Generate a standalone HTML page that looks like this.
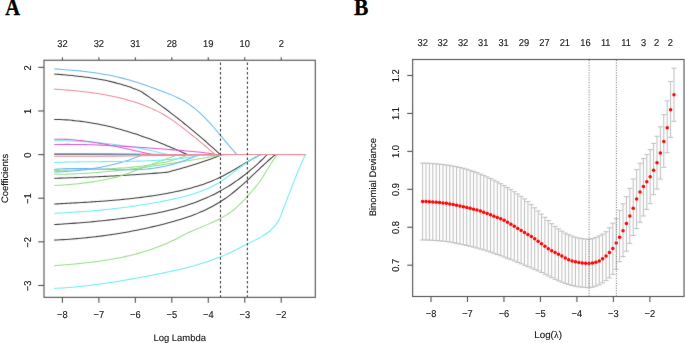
<!DOCTYPE html>
<html><head><meta charset="utf-8"><title>LASSO</title>
<style>html,body{margin:0;padding:0;background:#fff;width:685px;height:343px;overflow:hidden}
svg{display:block;font-family:"Liberation Sans",sans-serif;text-rendering:geometricPrecision}</style></head>
<body><svg width="685" height="343" viewBox="0 0 685 343"><defs><filter id="bl" x="0" y="0" width="685" height="343" filterUnits="userSpaceOnUse" color-interpolation-filters="sRGB"><feConvolveMatrix order="3" kernelMatrix="1 2 1 2 36 2 1 2 1" divisor="48" edgeMode="duplicate" preserveAlpha="false"/></filter></defs><rect x="0" y="0" width="685" height="343" fill="#fff"/><g filter="url(#bl)"><rect x="0" y="0" width="685" height="343" fill="#fff"/><g fill="none" stroke-width="1.05" stroke-linejoin="round"><path d="M54.2 74.01C54.7 74.05 56.2 74.17 57.2 74.26C58.2 74.34 59.2 74.43 60.2 74.51C61.2 74.6 62.2 74.68 63.2 74.77C64.2 74.86 65.2 74.95 66.2 75.04C67.2 75.13 68.2 75.22 69.2 75.31C70.2 75.41 71.2 75.51 72.2 75.6C73.2 75.7 74.2 75.8 75.2 75.91C76.2 76.01 77.2 76.12 78.2 76.23C79.2 76.34 80.2 76.46 81.2 76.57C82.2 76.69 83.2 76.81 84.2 76.94C85.2 77.06 86.2 77.19 87.2 77.33C88.2 77.46 89.2 77.6 90.2 77.75C91.2 77.89 92.2 78.04 93.2 78.19C94.2 78.35 95.2 78.51 96.2 78.67C97.2 78.84 98.2 79.01 99.2 79.19C100.2 79.37 101.2 79.55 102.2 79.74C103.2 79.93 104.2 80.13 105.2 80.34C106.2 80.54 107.2 80.75 108.2 80.97C109.2 81.19 110.2 81.42 111.2 81.65C112.2 81.89 113.2 82.13 114.2 82.38C115.2 82.63 116.2 82.89 117.2 83.16C118.2 83.43 119.2 83.7 120.2 83.99C121.2 84.28 122.2 84.57 123.2 84.88C124.2 85.18 125.2 85.49 126.2 85.82C127.2 86.14 128.2 86.48 129.2 86.82C130.2 87.17 131.2 87.52 132.2 87.89C133.2 88.26 134.2 88.63 135.2 89.02C136.2 89.41 137.23 89.82 138.2 90.22C139.17 90.62 140.53 91.2 141 91.4L141 91.4C141.5 91.74 143 92.77 144 93.46C145 94.15 146 94.84 147 95.54C148 96.23 149 96.94 150 97.64C151 98.35 152 99.05 153 99.77C154 100.48 155 101.2 156 101.92C157 102.64 158 103.37 159 104.1C160 104.83 161 105.56 162 106.3C163 107.04 164 107.78 165 108.53C166 109.28 167 110.03 168 110.79C169 111.54 170 112.3 171 113.07C172 113.83 173 114.6 174 115.38C175 116.15 176 116.93 177 117.71C178 118.5 179 119.28 180 120.08C181 120.87 182 121.67 183 122.47C184 123.27 185 124.07 186 124.89C187 125.7 188 126.51 189 127.33C190 128.15 191 128.98 192 129.81C193 130.64 194 131.47 195 132.31C196 133.15 197 133.99 198 134.84C199 135.69 200 136.55 201 137.4C202 138.26 203 139.13 204 140C205 140.86 206 141.74 207 142.62C208 143.5 209 144.38 210 145.27C211 146.16 212 147.05 213 147.95C214 148.85 215 149.75 216 150.66C217 151.57 218.28 152.75 219 153.4C219.72 154.06 220.08 154.4 220.3 154.6" stroke="#3D3D3D"/><path d="M54.2 119.41C54.7 119.42 56.2 119.44 57.2 119.47C58.2 119.5 59.2 119.53 60.2 119.57C61.2 119.61 62.2 119.65 63.2 119.71C64.2 119.76 65.2 119.82 66.2 119.89C67.2 119.95 68.2 120.02 69.2 120.1C70.2 120.18 71.2 120.27 72.2 120.36C73.2 120.45 74.2 120.55 75.2 120.66C76.2 120.76 77.2 120.87 78.2 120.99C79.2 121.11 80.2 121.23 81.2 121.36C82.2 121.49 83.2 121.63 84.2 121.77C85.2 121.91 86.2 122.06 87.2 122.21C88.2 122.37 89.2 122.53 90.2 122.69C91.2 122.86 92.2 123.03 93.2 123.21C94.2 123.39 95.2 123.57 96.2 123.76C97.2 123.95 98.2 124.14 99.2 124.34C100.2 124.54 101.2 124.75 102.2 124.96C103.2 125.17 104.2 125.39 105.2 125.61C106.2 125.84 107.2 126.07 108.2 126.3C109.2 126.53 110.2 126.77 111.2 127.02C112.2 127.26 113.2 127.51 114.2 127.77C115.2 128.02 116.2 128.28 117.2 128.55C118.2 128.82 119.2 129.09 120.2 129.36C121.2 129.64 122.2 129.92 123.2 130.21C124.2 130.49 125.2 130.78 126.2 131.08C127.2 131.38 128.2 131.68 129.2 131.98C130.2 132.29 131.2 132.6 132.2 132.91C133.2 133.23 134.2 133.55 135.2 133.87C136.2 134.2 137.2 134.53 138.2 134.86C139.2 135.2 140.2 135.54 141.2 135.88C142.2 136.22 143.2 136.57 144.2 136.92C145.2 137.27 146.2 137.63 147.2 137.99C148.2 138.35 149.2 138.72 150.2 139.09C151.2 139.46 152.2 139.83 153.2 140.21C154.2 140.59 155.2 140.97 156.2 141.36C157.2 141.74 158.2 142.13 159.2 142.53C160.2 142.92 161.2 143.32 162.2 143.72C163.2 144.13 164.2 144.53 165.2 144.94C166.2 145.35 167.2 145.77 168.2 146.19C169.2 146.6 170.2 147.03 171.2 147.45C172.2 147.88 173.2 148.31 174.2 148.74C175.2 149.17 176.2 149.61 177.2 150.05C178.2 150.49 179.2 150.93 180.2 151.38C181.2 151.83 182.2 152.28 183.2 152.73C184.2 153.18 185.52 153.79 186.2 154.1C186.88 154.41 187.12 154.52 187.3 154.6" stroke="#3D3D3D"/><path d="M54.2 154.4C65.17 154.4 99.03 154.37 120 154.4C140.97 154.43 163 154.57 180 154.6C197 154.63 215 154.6 222 154.6" stroke="#777777"/><path d="M54.2 178.3C54.7 178.29 56.2 178.24 57.2 178.21C58.2 178.18 59.2 178.15 60.2 178.12C61.2 178.09 62.2 178.06 63.2 178.03C64.2 178 65.2 177.97 66.2 177.93C67.2 177.9 68.2 177.87 69.2 177.83C70.2 177.8 71.2 177.77 72.2 177.73C73.2 177.7 74.2 177.66 75.2 177.63C76.2 177.59 77.2 177.55 78.2 177.52C79.2 177.48 80.2 177.44 81.2 177.4C82.2 177.36 83.2 177.33 84.2 177.29C85.2 177.25 86.2 177.21 87.2 177.17C88.2 177.12 89.2 177.08 90.2 177.04C91.2 177 92.2 176.96 93.2 176.91C94.2 176.87 95.2 176.83 96.2 176.78C97.2 176.74 98.2 176.69 99.2 176.64C100.2 176.6 101.2 176.55 102.2 176.5C103.2 176.46 104.2 176.41 105.2 176.36C106.2 176.31 107.2 176.26 108.2 176.21C109.2 176.16 110.2 176.11 111.2 176.06C112.2 176 113.2 175.95 114.2 175.9C115.2 175.84 116.2 175.79 117.2 175.73C118.2 175.68 119.2 175.62 120.2 175.57C121.2 175.51 122.2 175.45 123.2 175.39C124.2 175.33 125.2 175.27 126.2 175.21C127.2 175.15 128.2 175.09 129.2 175.03C130.2 174.97 131.2 174.91 132.2 174.84C133.2 174.78 134.2 174.71 135.2 174.65C136.2 174.58 137.2 174.52 138.2 174.45C139.2 174.38 140.2 174.31 141.2 174.24C142.2 174.18 143.2 174.11 144.2 174.03C145.2 173.96 146.2 173.89 147.2 173.82C148.2 173.75 149.2 173.67 150.2 173.6C151.2 173.52 152.2 173.45 153.2 173.37C154.2 173.29 155.2 173.21 156.2 173.14C157.2 173.06 158.2 172.98 159.2 172.9C160.2 172.81 161.2 172.73 162.2 172.65C163.2 172.57 164.32 172.47 165.2 172.4C166.08 172.32 167.12 172.23 167.5 172.2L167.5 172.2C168 172.07 169.5 171.66 170.5 171.39C171.5 171.13 172.5 170.85 173.5 170.58C174.5 170.31 175.5 170.04 176.5 169.76C177.5 169.48 178.5 169.21 179.5 168.93C180.5 168.65 181.5 168.36 182.5 168.08C183.5 167.79 184.5 167.5 185.5 167.21C186.5 166.92 187.5 166.63 188.5 166.33C189.5 166.03 190.5 165.73 191.5 165.43C192.5 165.12 193.5 164.82 194.5 164.5C195.5 164.19 196.5 163.88 197.5 163.56C198.5 163.23 199.5 162.91 200.5 162.58C201.5 162.25 202.5 161.91 203.5 161.57C204.5 161.23 205.5 160.89 206.5 160.54C207.5 160.19 208.5 159.83 209.5 159.47C210.5 159.11 211.5 158.74 212.5 158.37C213.5 157.99 214.5 157.61 215.5 157.22C216.5 156.84 217.5 156.44 218.5 156.04C219.5 155.64 220.92 155.06 221.5 154.82C222.08 154.58 221.92 154.64 222 154.6" stroke="#3D3D3D"/><path d="M54.2 204.02C54.7 203.99 56.2 203.91 57.2 203.86C58.2 203.8 59.2 203.75 60.2 203.7C61.2 203.64 62.2 203.59 63.2 203.53C64.2 203.48 65.2 203.42 66.2 203.37C67.2 203.32 68.2 203.26 69.2 203.21C70.2 203.15 71.2 203.1 72.2 203.04C73.2 202.99 74.2 202.93 75.2 202.88C76.2 202.82 77.2 202.76 78.2 202.71C79.2 202.65 80.2 202.59 81.2 202.53C82.2 202.47 83.2 202.42 84.2 202.36C85.2 202.3 86.2 202.24 87.2 202.17C88.2 202.11 89.2 202.05 90.2 201.99C91.2 201.92 92.2 201.86 93.2 201.79C94.2 201.73 95.2 201.66 96.2 201.59C97.2 201.53 98.2 201.46 99.2 201.39C100.2 201.32 101.2 201.24 102.2 201.17C103.2 201.1 104.2 201.02 105.2 200.95C106.2 200.87 107.2 200.79 108.2 200.71C109.2 200.64 110.2 200.55 111.2 200.47C112.2 200.39 113.2 200.3 114.2 200.22C115.2 200.13 116.2 200.04 117.2 199.95C118.2 199.86 119.2 199.77 120.2 199.68C121.2 199.58 122.2 199.49 123.2 199.39C124.2 199.29 125.2 199.19 126.2 199.09C127.2 198.98 128.2 198.88 129.2 198.77C130.2 198.66 131.2 198.55 132.2 198.44C133.2 198.33 134.2 198.21 135.2 198.1C136.2 197.98 137.2 197.86 138.2 197.73C139.2 197.61 140.2 197.49 141.2 197.36C142.2 197.23 143.2 197.1 144.2 196.96C145.2 196.83 146.2 196.69 147.2 196.55C148.2 196.41 149.2 196.27 150.2 196.12C151.2 195.98 152.2 195.83 153.2 195.67C154.2 195.52 155.2 195.36 156.2 195.21C157.2 195.05 158.2 194.88 159.2 194.72C160.2 194.55 161.2 194.38 162.2 194.21C163.2 194.03 164.2 193.86 165.2 193.68C166.2 193.5 167.2 193.31 168.2 193.12C169.2 192.94 170.2 192.74 171.2 192.55C172.2 192.35 173.2 192.15 174.2 191.95C175.2 191.75 176.2 191.54 177.2 191.33C178.2 191.11 179.2 190.9 180.2 190.67C181.2 190.45 182.2 190.22 183.2 189.99C184.2 189.75 185.2 189.51 186.2 189.26C187.2 189.02 188.2 188.76 189.2 188.5C190.2 188.24 191.2 187.97 192.2 187.69C193.2 187.41 194.2 187.13 195.2 186.83C196.2 186.54 197.2 186.23 198.2 185.92C199.2 185.61 200.2 185.28 201.2 184.95C202.2 184.62 203.2 184.28 204.2 183.92C205.2 183.57 206.2 183.2 207.2 182.83C208.2 182.45 209.2 182.06 210.2 181.66C211.2 181.26 212.2 180.85 213.2 180.43C214.2 180 215.2 179.57 216.2 179.11C217.2 178.66 218.2 178.2 219.2 177.72C220.2 177.24 221.2 176.75 222.2 176.24C223.2 175.74 224.2 175.21 225.2 174.68C226.2 174.15 227.2 173.61 228.2 173.06C229.2 172.51 230.2 171.94 231.2 171.38C232.2 170.81 233.2 170.23 234.2 169.65C235.2 169.07 236.2 168.48 237.2 167.9C238.2 167.31 239.2 166.71 240.2 166.12C241.2 165.53 242.2 164.93 243.2 164.34C244.2 163.75 245.2 163.15 246.2 162.57C247.2 161.98 248.2 161.39 249.2 160.82C250.2 160.24 251.2 159.67 252.2 159.11C253.2 158.55 254.2 158 255.2 157.46C256.2 156.92 257.27 156.35 258.2 155.88C259.13 155.4 260.37 154.81 260.8 154.6" stroke="#3D3D3D"/><path d="M54.2 224.54C54.7 224.51 56.2 224.42 57.2 224.36C58.2 224.3 59.2 224.24 60.2 224.18C61.2 224.11 62.2 224.05 63.2 223.99C64.2 223.92 65.2 223.85 66.2 223.79C67.2 223.72 68.2 223.65 69.2 223.58C70.2 223.51 71.2 223.44 72.2 223.36C73.2 223.29 74.2 223.22 75.2 223.14C76.2 223.07 77.2 222.99 78.2 222.91C79.2 222.83 80.2 222.75 81.2 222.67C82.2 222.59 83.2 222.51 84.2 222.42C85.2 222.34 86.2 222.25 87.2 222.17C88.2 222.08 89.2 221.99 90.2 221.9C91.2 221.81 92.2 221.72 93.2 221.63C94.2 221.54 95.2 221.44 96.2 221.35C97.2 221.25 98.2 221.15 99.2 221.05C100.2 220.95 101.2 220.85 102.2 220.75C103.2 220.65 104.2 220.55 105.2 220.44C106.2 220.33 107.2 220.23 108.2 220.12C109.2 220.01 110.2 219.9 111.2 219.79C112.2 219.68 113.2 219.56 114.2 219.45C115.2 219.33 116.2 219.22 117.2 219.1C118.2 218.98 119.2 218.86 120.2 218.74C121.2 218.62 122.2 218.49 123.2 218.37C124.2 218.24 125.2 218.11 126.2 217.98C127.2 217.85 128.2 217.72 129.2 217.59C130.2 217.45 131.2 217.31 132.2 217.17C133.2 217.03 134.2 216.89 135.2 216.75C136.2 216.6 137.2 216.45 138.2 216.3C139.2 216.15 140.2 215.99 141.2 215.84C142.2 215.68 143.2 215.52 144.2 215.35C145.2 215.18 146.2 215.02 147.2 214.84C148.2 214.67 149.2 214.49 150.2 214.31C151.2 214.13 152.2 213.94 153.2 213.75C154.2 213.56 155.2 213.37 156.2 213.17C157.2 212.97 158.2 212.77 159.2 212.56C160.2 212.35 161.2 212.14 162.2 211.92C163.2 211.7 164.2 211.47 165.2 211.24C166.2 211.01 167.2 210.78 168.2 210.54C169.2 210.3 170.2 210.05 171.2 209.8C172.2 209.55 173.2 209.29 174.2 209.02C175.2 208.76 176.2 208.49 177.2 208.21C178.2 207.93 179.2 207.65 180.2 207.36C181.2 207.07 182.2 206.77 183.2 206.47C184.2 206.16 185.2 205.85 186.2 205.53C187.2 205.21 188.2 204.88 189.2 204.54C190.2 204.21 191.2 203.86 192.2 203.51C193.2 203.15 194.2 202.79 195.2 202.42C196.2 202.05 197.2 201.67 198.2 201.28C199.2 200.89 200.2 200.49 201.2 200.08C202.2 199.67 203.2 199.25 204.2 198.82C205.2 198.4 206.2 197.96 207.2 197.51C208.2 197.06 209.2 196.6 210.2 196.12C211.2 195.65 212.2 195.17 213.2 194.68C214.2 194.18 215.2 193.68 216.2 193.16C217.2 192.64 218.2 192.11 219.2 191.57C220.2 191.03 221.2 190.47 222.2 189.91C223.2 189.34 224.2 188.76 225.2 188.17C226.2 187.58 227.2 186.97 228.2 186.35C229.2 185.73 230.2 185.1 231.2 184.45C232.2 183.81 233.2 183.15 234.2 182.47C235.2 181.8 236.2 181.11 237.2 180.41C238.2 179.7 239.2 178.99 240.2 178.25C241.2 177.52 242.2 176.77 243.2 176.01C244.2 175.24 245.2 174.46 246.2 173.67C247.2 172.87 248.2 172.06 249.2 171.24C250.2 170.41 251.2 169.56 252.2 168.7C253.2 167.84 254.2 166.97 255.2 166.07C256.2 165.18 257.2 164.27 258.2 163.34C259.2 162.41 260.2 161.46 261.2 160.5C262.2 159.53 263.22 158.53 264.2 157.55C265.18 156.57 266.62 155.09 267.1 154.6" stroke="#3D3D3D"/><path d="M54.2 240.11C54.7 240.08 56.2 240.01 57.2 239.95C58.2 239.9 59.2 239.85 60.2 239.79C61.2 239.73 62.2 239.67 63.2 239.61C64.2 239.55 65.2 239.48 66.2 239.41C67.2 239.35 68.2 239.28 69.2 239.2C70.2 239.13 71.2 239.06 72.2 238.98C73.2 238.9 74.2 238.82 75.2 238.74C76.2 238.66 77.2 238.57 78.2 238.49C79.2 238.4 80.2 238.31 81.2 238.22C82.2 238.12 83.2 238.03 84.2 237.93C85.2 237.83 86.2 237.73 87.2 237.63C88.2 237.53 89.2 237.42 90.2 237.31C91.2 237.21 92.2 237.09 93.2 236.98C94.2 236.87 95.2 236.75 96.2 236.63C97.2 236.51 98.2 236.39 99.2 236.27C100.2 236.14 101.2 236.01 102.2 235.88C103.2 235.75 104.2 235.62 105.2 235.48C106.2 235.35 107.2 235.21 108.2 235.07C109.2 234.93 110.2 234.78 111.2 234.63C112.2 234.49 113.2 234.33 114.2 234.18C115.2 234.03 116.2 233.87 117.2 233.71C118.2 233.55 119.2 233.39 120.2 233.23C121.2 233.06 122.2 232.89 123.2 232.72C124.2 232.55 125.2 232.37 126.2 232.2C127.2 232.02 128.2 231.84 129.2 231.66C130.2 231.47 131.2 231.28 132.2 231.09C133.2 230.9 134.2 230.71 135.2 230.52C136.2 230.32 137.2 230.12 138.2 229.92C139.2 229.71 140.2 229.51 141.2 229.3C142.2 229.09 143.2 228.88 144.2 228.66C145.2 228.45 146.2 228.23 147.2 228.01C148.2 227.78 149.2 227.56 150.2 227.33C151.2 227.1 152.2 226.87 153.2 226.63C154.2 226.4 155.2 226.16 156.2 225.92C157.2 225.68 158.2 225.43 159.2 225.18C160.2 224.93 161.2 224.68 162.2 224.42C163.2 224.17 164.2 223.91 165.2 223.65C166.2 223.38 167.2 223.12 168.2 222.85C169.2 222.58 170.2 222.3 171.2 222.03C172.2 221.75 173.2 221.47 174.2 221.18C175.2 220.9 176.2 220.61 177.2 220.32C178.2 220.03 179.2 219.73 180.2 219.43C181.2 219.12 182.2 218.81 183.2 218.5C184.2 218.18 185.2 217.86 186.2 217.53C187.2 217.19 188.2 216.86 189.2 216.51C190.2 216.16 191.2 215.81 192.2 215.44C193.2 215.07 194.2 214.7 195.2 214.31C196.2 213.92 197.2 213.53 198.2 213.12C199.2 212.71 200.2 212.29 201.2 211.85C202.2 211.42 203.2 210.97 204.2 210.51C205.2 210.05 206.2 209.58 207.2 209.09C208.2 208.6 209.2 208.09 210.2 207.57C211.2 207.05 212.2 206.52 213.2 205.97C214.2 205.42 215.2 204.85 216.2 204.26C217.2 203.67 218.2 203.07 219.2 202.45C220.2 201.83 221.2 201.18 222.2 200.52C223.2 199.86 224.2 199.18 225.2 198.48C226.2 197.79 227.2 197.07 228.2 196.33C229.2 195.6 230.2 194.85 231.2 194.08C232.2 193.31 233.2 192.52 234.2 191.72C235.2 190.92 236.2 190.1 237.2 189.26C238.2 188.42 239.2 187.57 240.2 186.71C241.2 185.84 242.2 184.95 243.2 184.06C244.2 183.16 245.2 182.25 246.2 181.33C247.2 180.41 248.2 179.48 249.2 178.54C250.2 177.61 251.2 176.66 252.2 175.72C253.2 174.77 254.2 173.82 255.2 172.87C256.2 171.92 257.2 170.96 258.2 170.02C259.2 169.07 260.2 168.12 261.2 167.18C262.2 166.25 263.2 165.31 264.2 164.39C265.2 163.47 266.2 162.56 267.2 161.66C268.2 160.77 269.2 159.88 270.2 159.01C271.2 158.15 272.32 157.2 273.2 156.47C274.08 155.73 275.12 154.91 275.5 154.6" stroke="#3D3D3D"/><path d="M54.2 170.51C54.7 170.49 56.2 170.44 57.2 170.41C58.2 170.37 59.2 170.34 60.2 170.31C61.2 170.28 62.2 170.26 63.2 170.23C64.2 170.2 65.2 170.17 66.2 170.15C67.2 170.12 68.2 170.09 69.2 170.07C70.2 170.04 71.2 170.02 72.2 169.99C73.2 169.97 74.2 169.94 75.2 169.92C76.2 169.89 77.2 169.87 78.2 169.84C79.2 169.81 80.2 169.79 81.2 169.76C82.2 169.74 83.2 169.71 84.2 169.68C85.2 169.66 86.2 169.63 87.2 169.6C88.2 169.57 89.2 169.54 90.2 169.51C91.2 169.48 92.2 169.45 93.2 169.42C94.2 169.39 95.2 169.35 96.2 169.32C97.2 169.28 98.2 169.25 99.2 169.21C100.2 169.17 101.2 169.13 102.2 169.09C103.2 169.05 104.2 169.01 105.2 168.96C106.2 168.92 107.2 168.87 108.2 168.82C109.2 168.77 110.2 168.72 111.2 168.67C112.2 168.61 113.2 168.56 114.2 168.5C115.2 168.44 116.2 168.38 117.2 168.31C118.2 168.25 119.2 168.18 120.2 168.11C121.2 168.04 122.2 167.97 123.2 167.9C124.2 167.82 125.2 167.74 126.2 167.66C127.2 167.58 128.2 167.49 129.2 167.4C130.2 167.31 131.2 167.22 132.2 167.12C133.2 167.03 134.2 166.93 135.2 166.82C136.2 166.72 137.2 166.61 138.2 166.5C139.2 166.39 140.2 166.27 141.2 166.15C142.2 166.03 143.2 165.91 144.2 165.78C145.2 165.65 146.2 165.51 147.2 165.37C148.2 165.24 149.2 165.09 150.2 164.95C151.2 164.8 152.2 164.64 153.2 164.48C154.2 164.33 155.2 164.16 156.2 163.99C157.2 163.81 158.2 163.64 159.2 163.45C160.2 163.26 161.2 163.06 162.2 162.85C163.2 162.65 164.2 162.43 165.2 162.2C166.2 161.98 167.2 161.74 168.2 161.49C169.2 161.24 170.2 160.97 171.2 160.7C172.2 160.42 173.2 160.13 174.2 159.83C175.2 159.53 176.2 159.21 177.2 158.87C178.2 158.54 179.2 158.19 180.2 157.82C181.2 157.46 182.2 157.08 183.2 156.67C184.2 156.27 185.4 155.76 186.2 155.41C187 155.07 187.7 154.74 188 154.6" stroke="#94DF87"/><path d="M54.2 174.3C54.7 174.3 56.2 174.3 57.2 174.29C58.2 174.29 59.2 174.28 60.2 174.26C61.2 174.25 62.2 174.23 63.2 174.22C64.2 174.2 65.2 174.17 66.2 174.15C67.2 174.12 68.2 174.1 69.2 174.07C70.2 174.04 71.2 174 72.2 173.96C73.2 173.93 74.2 173.89 75.2 173.85C76.2 173.81 77.2 173.76 78.2 173.71C79.2 173.67 80.2 173.62 81.2 173.56C82.2 173.51 83.2 173.45 84.2 173.4C85.2 173.34 86.2 173.28 87.2 173.21C88.2 173.15 89.2 173.09 90.2 173.02C91.2 172.95 92.2 172.88 93.2 172.81C94.2 172.73 95.2 172.66 96.2 172.58C97.2 172.5 98.2 172.42 99.2 172.34C100.2 172.26 101.2 172.17 102.2 172.09C103.2 172 104.2 171.91 105.2 171.82C106.2 171.73 107.2 171.64 108.2 171.54C109.2 171.45 110.2 171.35 111.2 171.25C112.2 171.15 113.2 171.05 114.2 170.94C115.2 170.84 116.2 170.74 117.2 170.63C118.2 170.52 119.2 170.41 120.2 170.3C121.2 170.19 122.2 170.08 123.2 169.96C124.2 169.85 125.2 169.73 126.2 169.62C127.2 169.5 128.2 169.38 129.2 169.26C130.2 169.14 131.2 169.01 132.2 168.89C133.2 168.76 134.2 168.64 135.2 168.51C136.2 168.38 137.2 168.25 138.2 168.12C139.2 167.99 140.2 167.86 141.2 167.73C142.2 167.59 143.2 167.46 144.2 167.32C145.2 167.18 146.2 167.05 147.2 166.91C148.2 166.77 149.2 166.63 150.2 166.49C151.2 166.35 152.2 166.2 153.2 166.06C154.2 165.92 155.2 165.77 156.2 165.63C157.2 165.48 158.2 165.33 159.2 165.18C160.2 165.04 161.2 164.89 162.2 164.74C163.2 164.59 164.2 164.44 165.2 164.28C166.2 164.13 167.2 163.98 168.2 163.83C169.2 163.67 170.2 163.52 171.2 163.36C172.2 163.21 173.2 163.05 174.2 162.89C175.2 162.74 176.2 162.58 177.2 162.42C178.2 162.26 179.2 162.1 180.2 161.95C181.2 161.79 182.2 161.63 183.2 161.46C184.2 161.3 185.2 161.14 186.2 160.98C187.2 160.82 188.2 160.66 189.2 160.5C190.2 160.33 191.2 160.17 192.2 160.01C193.2 159.84 194.2 159.68 195.2 159.52C196.2 159.35 197.2 159.19 198.2 159.02C199.2 158.86 200.2 158.69 201.2 158.53C202.2 158.37 203.2 158.2 204.2 158.04C205.2 157.87 206.2 157.71 207.2 157.54C208.2 157.37 209.2 157.21 210.2 157.04C211.2 156.88 212.2 156.71 213.2 156.55C214.2 156.38 215.2 156.22 216.2 156.05C217.2 155.89 218.2 155.72 219.2 155.56C220.2 155.4 221.23 155.23 222.2 155.07C223.17 154.91 224.53 154.68 225 154.6" stroke="#94DF87"/><path d="M54.2 185.4C54.7 185.39 56.2 185.35 57.2 185.31C58.2 185.27 59.2 185.23 60.2 185.18C61.2 185.13 62.2 185.08 63.2 185.02C64.2 184.96 65.2 184.9 66.2 184.83C67.2 184.76 68.2 184.68 69.2 184.6C70.2 184.52 71.2 184.43 72.2 184.34C73.2 184.25 74.2 184.15 75.2 184.05C76.2 183.95 77.2 183.85 78.2 183.74C79.2 183.62 80.2 183.51 81.2 183.39C82.2 183.27 83.2 183.14 84.2 183.01C85.2 182.88 86.2 182.75 87.2 182.61C88.2 182.47 89.2 182.33 90.2 182.18C91.2 182.04 92.2 181.88 93.2 181.73C94.2 181.57 95.2 181.41 96.2 181.25C97.2 181.09 98.2 180.92 99.2 180.75C100.2 180.57 101.2 180.4 102.2 180.22C103.2 180.04 104.2 179.85 105.2 179.66C106.2 179.47 107.2 179.27 108.2 179.06C109.2 178.85 110.2 178.63 111.2 178.4C112.2 178.17 113.2 177.93 114.2 177.67C115.2 177.42 116.2 177.15 117.2 176.87C118.2 176.59 119.2 176.29 120.2 175.98C121.2 175.67 122.2 175.34 123.2 175.01C124.2 174.68 125.2 174.33 126.2 173.97C127.2 173.62 128.2 173.26 129.2 172.89C130.2 172.52 131.2 172.14 132.2 171.76C133.2 171.38 134.2 170.99 135.2 170.6C136.2 170.22 137.2 169.82 138.2 169.43C139.2 169.04 140.2 168.65 141.2 168.27C142.2 167.88 143.2 167.49 144.2 167.11C145.2 166.73 146.2 166.35 147.2 165.98C148.2 165.61 149.2 165.24 150.2 164.87C151.2 164.5 152.2 164.14 153.2 163.78C154.2 163.41 155.2 163.05 156.2 162.69C157.2 162.33 158.2 161.97 159.2 161.6C160.2 161.24 161.2 160.88 162.2 160.51C163.2 160.15 164.2 159.78 165.2 159.41C166.2 159.04 167.2 158.66 168.2 158.29C169.2 157.91 170.2 157.52 171.2 157.14C172.2 156.75 173.2 156.35 174.2 155.95C175.2 155.55 176.65 154.95 177.2 154.73C177.75 154.5 177.45 154.62 177.5 154.6" stroke="#94DF87"/><path d="M54.2 265.71C54.7 265.67 56.2 265.55 57.2 265.46C58.2 265.38 59.2 265.3 60.2 265.22C61.2 265.13 62.2 265.05 63.2 264.96C64.2 264.88 65.2 264.79 66.2 264.71C67.2 264.62 68.2 264.53 69.2 264.44C70.2 264.36 71.2 264.27 72.2 264.18C73.2 264.08 74.2 263.99 75.2 263.9C76.2 263.8 77.2 263.71 78.2 263.61C79.2 263.51 80.2 263.41 81.2 263.31C82.2 263.21 83.2 263.1 84.2 263C85.2 262.89 86.2 262.78 87.2 262.67C88.2 262.56 89.2 262.44 90.2 262.33C91.2 262.21 92.2 262.09 93.2 261.96C94.2 261.84 95.2 261.71 96.2 261.58C97.2 261.45 98.2 261.32 99.2 261.18C100.2 261.04 101.2 260.9 102.2 260.76C103.2 260.61 104.2 260.46 105.2 260.31C106.2 260.15 107.2 260 108.2 259.83C109.2 259.67 110.2 259.51 111.2 259.33C112.2 259.16 113.2 258.99 114.2 258.8C115.2 258.62 116.2 258.44 117.2 258.25C118.2 258.05 119.2 257.86 120.2 257.66C121.2 257.45 122.2 257.25 123.2 257.03C124.2 256.82 125.2 256.6 126.2 256.37C127.2 256.15 128.2 255.92 129.2 255.68C130.2 255.44 131.2 255.2 132.2 254.95C133.2 254.7 134.2 254.44 135.2 254.18C136.2 253.92 137.2 253.65 138.2 253.37C139.2 253.09 140.2 252.81 141.2 252.52C142.2 252.22 143.2 251.93 144.2 251.62C145.2 251.31 146.2 251 147.2 250.68C148.2 250.36 149.2 250.03 150.2 249.69C151.2 249.35 152.2 249.01 153.2 248.65C154.2 248.3 155.2 247.94 156.2 247.57C157.2 247.2 158.2 246.82 159.2 246.43C160.2 246.04 161.2 245.65 162.2 245.24C163.2 244.83 164.2 244.42 165.2 244C166.2 243.57 167.2 243.14 168.2 242.7C169.2 242.25 170.2 241.8 171.2 241.34C172.2 240.88 173.2 240.4 174.2 239.92C175.2 239.44 176.2 238.95 177.2 238.45C178.2 237.94 179.2 237.43 180.2 236.91C181.2 236.39 182.2 235.85 183.2 235.31C184.2 234.76 185.6 233.98 186.2 233.64C186.8 233.31 186.7 233.36 186.8 233.3L186.8 233.3C187.3 233.08 188.8 232.39 189.8 231.95C190.8 231.51 191.8 231.08 192.8 230.65C193.8 230.22 194.8 229.8 195.8 229.38C196.8 228.96 197.8 228.55 198.8 228.13C199.8 227.72 200.8 227.3 201.8 226.89C202.8 226.47 203.8 226.06 204.8 225.64C205.8 225.22 206.8 224.79 207.8 224.36C208.8 223.93 209.8 223.49 210.8 223.05C211.8 222.6 212.8 222.15 213.8 221.68C214.8 221.22 215.8 220.75 216.8 220.26C217.8 219.77 218.8 219.27 219.8 218.75C220.8 218.23 221.8 217.69 222.8 217.13C223.8 216.57 224.8 215.99 225.8 215.38C226.8 214.77 227.8 214.13 228.8 213.46C229.8 212.79 230.8 212.08 231.8 211.34C232.8 210.59 233.8 209.81 234.8 208.98C235.8 208.15 236.8 207.28 237.8 206.36C238.8 205.44 239.8 204.46 240.8 203.46C241.8 202.45 242.8 201.4 243.8 200.33C244.8 199.26 245.8 198.16 246.8 197.06C247.8 195.95 248.8 194.84 249.8 193.71C250.8 192.57 251.8 191.44 252.8 190.26C253.8 189.09 254.8 187.9 255.8 186.65C256.8 185.4 257.8 184.11 258.8 182.76C259.8 181.4 260.8 180 261.8 178.51C262.8 177.02 263.8 175.43 264.8 173.82C265.8 172.21 266.8 170.5 267.8 168.85C268.8 167.2 269.8 165.51 270.8 163.92C271.8 162.34 272.8 160.76 273.8 159.36C274.8 157.95 276.17 156.26 276.8 155.47C277.43 154.68 277.47 154.74 277.6 154.6" stroke="#94DF87"/><path d="M54.2 68.91C54.7 68.94 56.2 69.05 57.2 69.12C58.2 69.19 59.2 69.26 60.2 69.33C61.2 69.4 62.2 69.48 63.2 69.55C64.2 69.63 65.2 69.7 66.2 69.78C67.2 69.86 68.2 69.94 69.2 70.02C70.2 70.11 71.2 70.19 72.2 70.28C73.2 70.36 74.2 70.45 75.2 70.54C76.2 70.64 77.2 70.73 78.2 70.83C79.2 70.93 80.2 71.03 81.2 71.13C82.2 71.24 83.2 71.34 84.2 71.45C85.2 71.57 86.2 71.68 87.2 71.8C88.2 71.92 89.2 72.04 90.2 72.17C91.2 72.3 92.2 72.43 93.2 72.56C94.2 72.7 95.2 72.84 96.2 72.99C97.2 73.13 98.2 73.29 99.2 73.44C100.2 73.6 101.2 73.76 102.2 73.93C103.2 74.09 104.2 74.27 105.2 74.45C106.2 74.63 107.2 74.81 108.2 75C109.2 75.19 110.2 75.39 111.2 75.6C112.2 75.8 113.2 76.01 114.2 76.23C115.2 76.45 116.2 76.67 117.2 76.9C118.2 77.13 119.2 77.37 120.2 77.62C121.2 77.87 122.2 78.12 123.2 78.38C124.2 78.64 125.2 78.91 126.2 79.19C127.2 79.46 128.2 79.75 129.2 80.04C130.2 80.32 131.2 80.62 132.2 80.92C133.2 81.22 134.2 81.53 135.2 81.84C136.2 82.15 137.2 82.47 138.2 82.79C139.2 83.12 140.2 83.45 141.2 83.78C142.2 84.11 143.2 84.45 144.2 84.79C145.2 85.14 146.2 85.48 147.2 85.83C148.2 86.18 149.2 86.54 150.2 86.9C151.2 87.26 152.2 87.62 153.2 87.98C154.2 88.35 155.2 88.72 156.2 89.09C157.2 89.46 158.2 89.83 159.2 90.21C160.2 90.59 161.2 90.97 162.2 91.35C163.2 91.73 164.2 92.11 165.2 92.5C166.2 92.88 167.2 93.27 168.2 93.66C169.2 94.06 170.2 94.46 171.2 94.87C172.2 95.28 173.2 95.7 174.2 96.13C175.2 96.57 176.2 97.02 177.2 97.49C178.2 97.96 179.2 98.45 180.2 98.96C181.2 99.48 182.2 100.01 183.2 100.58C184.2 101.14 185.2 101.74 186.2 102.36C187.2 102.99 188.2 103.64 189.2 104.34C190.2 105.03 191.2 105.75 192.2 106.5C193.2 107.26 194.2 108.05 195.2 108.86C196.2 109.68 197.2 110.53 198.2 111.41C199.2 112.29 200.2 113.2 201.2 114.14C202.2 115.08 203.2 116.05 204.2 117.04C205.2 118.04 206.2 119.07 207.2 120.13C208.2 121.18 209.2 122.27 210.2 123.37C211.2 124.48 212.2 125.62 213.2 126.76C214.2 127.91 215.2 129.08 216.2 130.26C217.2 131.44 218.2 132.63 219.2 133.83C220.2 135.02 221.2 136.23 222.2 137.43C223.2 138.64 224.2 139.85 225.2 141.04C226.2 142.24 227.2 143.44 228.2 144.62C229.2 145.8 230.2 146.98 231.2 148.13C232.2 149.29 233.23 150.47 234.2 151.55C235.17 152.62 236.53 154.09 237 154.6" stroke="#69B8EE"/><path d="M54.2 153.5C61.83 153.52 85.7 153.5 100 153.6C114.3 153.7 129.17 153.93 140 154.1C150.83 154.27 160.83 154.52 165 154.6" stroke="#69B8EE"/><path d="M54.2 169.4C54.7 169.36 56.2 169.22 57.2 169.14C58.2 169.05 59.2 168.98 60.2 168.92C61.2 168.85 62.2 168.79 63.2 168.74C64.2 168.69 65.2 168.65 66.2 168.61C67.2 168.58 68.2 168.55 69.2 168.52C70.2 168.5 71.2 168.48 72.2 168.47C73.2 168.45 74.2 168.45 75.2 168.44C76.2 168.44 77.2 168.44 78.2 168.45C79.2 168.46 80.2 168.47 81.2 168.48C82.2 168.5 83.2 168.51 84.2 168.54C85.2 168.56 86.2 168.58 87.2 168.61C88.2 168.64 89.2 168.67 90.2 168.7C91.2 168.73 92.2 168.76 93.2 168.8C94.2 168.84 95.2 168.87 96.2 168.91C97.2 168.95 98.2 168.99 99.2 169.03C100.2 169.07 101.2 169.11 102.2 169.15C103.2 169.18 104.2 169.22 105.2 169.26C106.2 169.3 107.2 169.34 108.2 169.38C109.2 169.41 110.2 169.45 111.2 169.48C112.2 169.51 113.2 169.55 114.2 169.58C115.2 169.6 116.2 169.63 117.2 169.65C118.2 169.68 119.2 169.7 120.2 169.72C121.2 169.73 122.2 169.75 123.2 169.76C124.2 169.77 125.2 169.77 126.2 169.77C127.2 169.77 128.2 169.77 129.2 169.76C130.2 169.75 131.2 169.74 132.2 169.72C133.2 169.7 134.2 169.67 135.2 169.64C136.2 169.61 137.2 169.57 138.2 169.52C139.2 169.48 140.2 169.42 141.2 169.36C142.2 169.3 143.2 169.24 144.2 169.16C145.2 169.09 146.2 169 147.2 168.91C148.2 168.82 149.2 168.72 150.2 168.61C151.2 168.5 152.2 168.38 153.2 168.25C154.2 168.12 155.2 167.99 156.2 167.84C157.2 167.69 158.2 167.53 159.2 167.36C160.2 167.19 161.2 167.01 162.2 166.82C163.2 166.63 164.2 166.42 165.2 166.21C166.2 165.99 167.2 165.77 168.2 165.53C169.2 165.29 170.2 165.04 171.2 164.77C172.2 164.51 173.2 164.23 174.2 163.94C175.2 163.65 176.2 163.35 177.2 163.04C178.2 162.73 179.2 162.4 180.2 162.07C181.2 161.74 182.2 161.4 183.2 161.05C184.2 160.69 185.2 160.33 186.2 159.96C187.2 159.59 188.2 159.22 189.2 158.83C190.2 158.44 191.2 158.05 192.2 157.65C193.2 157.25 194.2 156.83 195.2 156.43C196.2 156.03 197.4 155.54 198.2 155.23C199 154.93 199.7 154.71 200 154.6" stroke="#69B8EE"/><path d="M54.2 172C54.7 171.98 56.2 171.92 57.2 171.88C58.2 171.83 59.2 171.78 60.2 171.73C61.2 171.68 62.2 171.62 63.2 171.57C64.2 171.51 65.2 171.45 66.2 171.38C67.2 171.31 68.2 171.24 69.2 171.17C70.2 171.1 71.2 171.02 72.2 170.94C73.2 170.86 74.2 170.77 75.2 170.68C76.2 170.59 77.2 170.5 78.2 170.4C79.2 170.3 80.2 170.19 81.2 170.08C82.2 169.97 83.2 169.86 84.2 169.74C85.2 169.62 86.2 169.49 87.2 169.36C88.2 169.23 89.2 169.09 90.2 168.95C91.2 168.81 92.2 168.66 93.2 168.51C94.2 168.35 95.2 168.19 96.2 168.03C97.2 167.86 98.2 167.69 99.2 167.51C100.2 167.33 101.2 167.14 102.2 166.95C103.2 166.76 104.2 166.56 105.2 166.35C106.2 166.14 107.2 165.93 108.2 165.71C109.2 165.49 110.2 165.26 111.2 165.02C112.2 164.78 113.2 164.54 114.2 164.29C115.2 164.03 116.2 163.77 117.2 163.51C118.2 163.24 119.2 162.96 120.2 162.68C121.2 162.39 122.2 162.1 123.2 161.8C124.2 161.49 125.2 161.18 126.2 160.86C127.2 160.54 128.2 160.22 129.2 159.88C130.2 159.54 131.2 159.19 132.2 158.84C133.2 158.48 134.2 158.11 135.2 157.74C136.2 157.36 137.2 156.98 138.2 156.58C139.2 156.19 140.4 155.69 141.2 155.36C142 155.03 142.7 154.73 143 154.6" stroke="#69B8EE"/><path d="M54.2 140.7C54.7 140.7 56.2 140.7 57.2 140.7C58.2 140.71 59.2 140.72 60.2 140.73C61.2 140.74 62.2 140.76 63.2 140.77C64.2 140.79 65.2 140.81 66.2 140.84C67.2 140.86 68.2 140.89 69.2 140.92C70.2 140.95 71.2 140.99 72.2 141.02C73.2 141.06 74.2 141.1 75.2 141.14C76.2 141.19 77.2 141.23 78.2 141.28C79.2 141.33 80.2 141.39 81.2 141.44C82.2 141.5 83.2 141.56 84.2 141.62C85.2 141.68 86.2 141.75 87.2 141.82C88.2 141.89 89.2 141.96 90.2 142.03C91.2 142.11 92.2 142.19 93.2 142.27C94.2 142.35 95.2 142.44 96.2 142.52C97.2 142.61 98.2 142.7 99.2 142.8C100.2 142.89 101.2 142.99 102.2 143.09C103.2 143.19 104.2 143.29 105.2 143.4C106.2 143.51 107.2 143.62 108.2 143.73C109.2 143.84 110.2 143.96 111.2 144.08C112.2 144.2 113.2 144.32 114.2 144.44C115.2 144.57 116.2 144.7 117.2 144.83C118.2 144.96 119.2 145.1 120.2 145.24C121.2 145.38 122.2 145.52 123.2 145.66C124.2 145.81 125.2 145.96 126.2 146.11C127.2 146.26 128.2 146.41 129.2 146.57C130.2 146.73 131.2 146.89 132.2 147.06C133.2 147.23 134.2 147.4 135.2 147.57C136.2 147.74 137.2 147.92 138.2 148.1C139.2 148.28 140.2 148.46 141.2 148.65C142.2 148.84 143.2 149.03 144.2 149.23C145.2 149.43 146.2 149.63 147.2 149.83C148.2 150.04 149.2 150.25 150.2 150.46C151.2 150.67 152.2 150.89 153.2 151.11C154.2 151.33 155.2 151.56 156.2 151.79C157.2 152.02 158.2 152.25 159.2 152.49C160.2 152.73 161.2 152.97 162.2 153.22C163.2 153.47 164.32 153.75 165.2 153.98C166.08 154.21 167.12 154.5 167.5 154.6" stroke="#6DEBED"/><path d="M54.2 162.51C54.7 162.49 56.2 162.43 57.2 162.39C58.2 162.36 59.2 162.32 60.2 162.29C61.2 162.26 62.2 162.23 63.2 162.2C64.2 162.17 65.2 162.14 66.2 162.11C67.2 162.09 68.2 162.06 69.2 162.04C70.2 162.02 71.2 162 72.2 161.98C73.2 161.96 74.2 161.94 75.2 161.92C76.2 161.9 77.2 161.89 78.2 161.87C79.2 161.86 80.2 161.84 81.2 161.83C82.2 161.82 83.2 161.8 84.2 161.79C85.2 161.78 86.2 161.77 87.2 161.76C88.2 161.75 89.2 161.74 90.2 161.73C91.2 161.72 92.2 161.71 93.2 161.71C94.2 161.7 95.2 161.69 96.2 161.68C97.2 161.67 98.2 161.67 99.2 161.66C100.2 161.65 101.2 161.65 102.2 161.64C103.2 161.63 104.2 161.62 105.2 161.62C106.2 161.61 107.2 161.6 108.2 161.59C109.2 161.59 110.2 161.58 111.2 161.57C112.2 161.56 113.2 161.55 114.2 161.54C115.2 161.53 116.2 161.52 117.2 161.51C118.2 161.5 119.2 161.49 120.2 161.47C121.2 161.46 122.2 161.45 123.2 161.43C124.2 161.42 125.2 161.4 126.2 161.39C127.2 161.37 128.2 161.35 129.2 161.33C130.2 161.31 131.2 161.29 132.2 161.27C133.2 161.25 134.2 161.23 135.2 161.2C136.2 161.18 137.2 161.15 138.2 161.12C139.2 161.09 140.2 161.06 141.2 161.03C142.2 161 143.2 160.97 144.2 160.93C145.2 160.9 146.2 160.86 147.2 160.82C148.2 160.78 149.2 160.74 150.2 160.69C151.2 160.65 152.2 160.6 153.2 160.56C154.2 160.51 155.2 160.46 156.2 160.4C157.2 160.35 158.2 160.29 159.2 160.24C160.2 160.18 161.2 160.12 162.2 160.05C163.2 159.99 164.2 159.92 165.2 159.85C166.2 159.78 167.2 159.71 168.2 159.63C169.2 159.56 170.2 159.48 171.2 159.4C172.2 159.31 173.2 159.23 174.2 159.14C175.2 159.05 176.2 158.95 177.2 158.85C178.2 158.75 179.2 158.65 180.2 158.53C181.2 158.42 182.2 158.3 183.2 158.17C184.2 158.05 185.2 157.91 186.2 157.77C187.2 157.62 188.2 157.47 189.2 157.31C190.2 157.15 191.2 156.98 192.2 156.79C193.2 156.61 194.2 156.42 195.2 156.21C196.2 156.01 197.2 155.79 198.2 155.56C199.2 155.33 200.57 154.99 201.2 154.83C201.83 154.67 201.87 154.64 202 154.6" stroke="#6DEBED"/><path d="M54.2 213.32C54.7 213.3 56.2 213.22 57.2 213.16C58.2 213.11 59.2 213.06 60.2 213C61.2 212.94 62.2 212.89 63.2 212.83C64.2 212.77 65.2 212.71 66.2 212.65C67.2 212.59 68.2 212.53 69.2 212.47C70.2 212.41 71.2 212.34 72.2 212.28C73.2 212.21 74.2 212.15 75.2 212.08C76.2 212.01 77.2 211.94 78.2 211.87C79.2 211.8 80.2 211.73 81.2 211.66C82.2 211.58 83.2 211.51 84.2 211.43C85.2 211.36 86.2 211.28 87.2 211.2C88.2 211.12 89.2 211.04 90.2 210.96C91.2 210.88 92.2 210.79 93.2 210.71C94.2 210.62 95.2 210.54 96.2 210.45C97.2 210.36 98.2 210.27 99.2 210.17C100.2 210.08 101.2 209.99 102.2 209.89C103.2 209.79 104.2 209.7 105.2 209.6C106.2 209.5 107.2 209.39 108.2 209.29C109.2 209.19 110.2 209.08 111.2 208.97C112.2 208.86 113.2 208.75 114.2 208.64C115.2 208.53 116.2 208.41 117.2 208.3C118.2 208.18 119.2 208.06 120.2 207.94C121.2 207.82 122.2 207.7 123.2 207.57C124.2 207.45 125.2 207.32 126.2 207.19C127.2 207.06 128.2 206.93 129.2 206.79C130.2 206.66 131.2 206.52 132.2 206.38C133.2 206.24 134.2 206.1 135.2 205.95C136.2 205.81 137.2 205.66 138.2 205.51C139.2 205.36 140.2 205.21 141.2 205.05C142.2 204.9 143.2 204.74 144.2 204.58C145.2 204.42 146.2 204.25 147.2 204.09C148.2 203.92 149.2 203.75 150.2 203.58C151.2 203.41 152.2 203.23 153.2 203.05C154.2 202.88 155.2 202.7 156.2 202.51C157.2 202.33 158.2 202.14 159.2 201.95C160.2 201.76 161.2 201.57 162.2 201.37C163.2 201.18 164.2 200.98 165.2 200.78C166.2 200.58 167.2 200.37 168.2 200.16C169.2 199.95 170.2 199.74 171.2 199.53C172.2 199.31 173.2 199.09 174.2 198.87C175.2 198.65 176.2 198.43 177.2 198.2C178.2 197.96 179.2 197.73 180.2 197.49C181.2 197.25 182.2 197 183.2 196.75C184.2 196.5 185.2 196.24 186.2 195.97C187.2 195.7 188.2 195.43 189.2 195.14C190.2 194.86 191.2 194.57 192.2 194.27C193.2 193.96 194.2 193.65 195.2 193.33C196.2 193 197.2 192.67 198.2 192.32C199.2 191.98 200.2 191.62 201.2 191.24C202.2 190.87 203.2 190.48 204.2 190.08C205.2 189.67 206.2 189.26 207.2 188.82C208.2 188.38 209.2 187.92 210.2 187.44C211.2 186.97 212.2 186.47 213.2 185.95C214.2 185.43 215.2 184.89 216.2 184.32C217.2 183.75 218.2 183.17 219.2 182.55C220.2 181.93 221.2 181.29 222.2 180.62C223.2 179.95 224.2 179.26 225.2 178.55C226.2 177.84 227.2 177.11 228.2 176.37C229.2 175.63 230.2 174.87 231.2 174.11C232.2 173.35 233.2 172.58 234.2 171.81C235.2 171.04 236.2 170.26 237.2 169.49C238.2 168.72 239.2 167.95 240.2 167.2C241.2 166.45 242.2 165.69 243.2 164.96C244.2 164.23 245.2 163.51 246.2 162.82C247.2 162.13 248.2 161.45 249.2 160.81C250.2 160.17 251.2 159.56 252.2 158.99C253.2 158.41 254.2 157.87 255.2 157.39C256.2 156.9 257.2 156.45 258.2 156.05C259.2 155.66 260.4 155.28 261.2 155.04C262 154.8 262.7 154.67 263 154.6" stroke="#6DEBED"/><path d="M54.2 288.4C54.7 288.38 56.2 288.31 57.2 288.26C58.2 288.2 59.2 288.15 60.2 288.09C61.2 288.03 62.2 287.96 63.2 287.9C64.2 287.83 65.2 287.76 66.2 287.68C67.2 287.61 68.2 287.53 69.2 287.45C70.2 287.37 71.2 287.29 72.2 287.2C73.2 287.11 74.2 287.02 75.2 286.93C76.2 286.83 77.2 286.74 78.2 286.64C79.2 286.54 80.2 286.44 81.2 286.33C82.2 286.22 83.2 286.12 84.2 286C85.2 285.89 86.2 285.78 87.2 285.66C88.2 285.55 89.2 285.43 90.2 285.3C91.2 285.18 92.2 285.06 93.2 284.93C94.2 284.8 95.2 284.67 96.2 284.54C97.2 284.4 98.2 284.27 99.2 284.13C100.2 283.99 101.2 283.86 102.2 283.71C103.2 283.57 104.2 283.43 105.2 283.28C106.2 283.13 107.2 282.98 108.2 282.83C109.2 282.68 110.2 282.53 111.2 282.38C112.2 282.22 113.2 282.06 114.2 281.9C115.2 281.75 116.2 281.58 117.2 281.42C118.2 281.26 119.2 281.1 120.2 280.93C121.2 280.76 122.2 280.6 123.2 280.43C124.2 280.26 125.2 280.09 126.2 279.91C127.2 279.74 128.2 279.57 129.2 279.39C130.2 279.22 131.2 279.04 132.2 278.86C133.2 278.68 134.2 278.5 135.2 278.32C136.2 278.14 137.2 277.96 138.2 277.78C139.2 277.59 140.2 277.41 141.2 277.22C142.2 277.04 143.2 276.85 144.2 276.66C145.2 276.48 146.2 276.29 147.2 276.1C148.2 275.91 149.2 275.72 150.2 275.53C151.2 275.34 152.2 275.14 153.2 274.95C154.2 274.76 155.2 274.56 156.2 274.37C157.2 274.17 158.2 273.98 159.2 273.78C160.2 273.58 161.2 273.38 162.2 273.18C163.2 272.97 164.2 272.77 165.2 272.56C166.2 272.36 167.2 272.15 168.2 271.93C169.2 271.72 170.2 271.51 171.2 271.29C172.2 271.07 173.2 270.85 174.2 270.63C175.2 270.41 176.2 270.18 177.2 269.95C178.2 269.72 179.2 269.49 180.2 269.25C181.2 269.01 182.2 268.77 183.2 268.52C184.2 268.28 185.2 268.03 186.2 267.77C187.2 267.52 188.2 267.26 189.2 266.99C190.2 266.73 191.2 266.46 192.2 266.19C193.2 265.91 194.2 265.64 195.2 265.35C196.2 265.07 197.2 264.78 198.2 264.48C199.2 264.19 200.2 263.89 201.2 263.58C202.2 263.27 203.2 262.96 204.2 262.64C205.2 262.32 206.2 262 207.2 261.66C208.2 261.33 209.2 260.99 210.2 260.65C211.2 260.3 212.2 259.95 213.2 259.59C214.2 259.23 215.2 258.86 216.2 258.49C217.2 258.11 218.2 257.73 219.2 257.34C220.2 256.95 221.2 256.55 222.2 256.14C223.2 255.74 224.2 255.32 225.2 254.89C226.2 254.47 227.2 254.03 228.2 253.57C229.2 253.12 230.2 252.65 231.2 252.17C232.2 251.68 233.2 251.18 234.2 250.67C235.2 250.16 236.2 249.64 237.2 249.12C238.2 248.61 239.2 248.08 240.2 247.58C241.2 247.07 242.2 246.57 243.2 246.08C244.2 245.58 245.2 245.09 246.2 244.6C247.2 244.11 248.2 243.63 249.2 243.14C250.2 242.64 251.2 242.15 252.2 241.65C253.2 241.15 254.2 240.64 255.2 240.12C256.2 239.6 257.2 239.07 258.2 238.52C259.2 237.98 260.2 237.42 261.2 236.84C262.2 236.25 263.2 235.66 264.2 235.03C265.2 234.39 266.2 233.73 267.2 233C268.2 232.26 269.2 231.49 270.2 230.6C271.2 229.72 272.2 228.78 273.2 227.7C274.2 226.62 275.2 225.45 276.2 224.12C277.2 222.8 278.67 220.52 279.2 219.73C279.73 218.95 279.37 219.46 279.4 219.4L279.4 219.4C279.9 218.09 281.4 214.18 282.4 211.54C283.4 208.91 284.4 206.25 285.4 203.61C286.4 200.96 287.4 198.3 288.4 195.67C289.4 193.04 290.4 190.41 291.4 187.82C292.4 185.23 293.4 182.66 294.4 180.14C295.4 177.62 296.4 175.13 297.4 172.71C298.4 170.3 299.4 167.92 300.4 165.63C301.4 163.34 302.55 160.8 303.4 158.96C304.25 157.13 305.15 155.33 305.5 154.6" stroke="#6DEBED"/><path d="M54.2 139.22C54.7 139.21 56.2 139.19 57.2 139.18C58.2 139.18 59.2 139.19 60.2 139.2C61.2 139.21 62.2 139.23 63.2 139.26C64.2 139.29 65.2 139.33 66.2 139.38C67.2 139.42 68.2 139.47 69.2 139.53C70.2 139.59 71.2 139.66 72.2 139.74C73.2 139.81 74.2 139.89 75.2 139.98C76.2 140.07 77.2 140.16 78.2 140.27C79.2 140.37 80.2 140.47 81.2 140.59C82.2 140.7 83.2 140.82 84.2 140.95C85.2 141.07 86.2 141.2 87.2 141.34C88.2 141.48 89.2 141.62 90.2 141.76C91.2 141.91 92.2 142.06 93.2 142.22C94.2 142.38 95.2 142.54 96.2 142.7C97.2 142.87 98.2 143.04 99.2 143.21C100.2 143.39 101.2 143.56 102.2 143.75C103.2 143.93 104.2 144.11 105.2 144.3C106.2 144.49 107.2 144.68 108.2 144.88C109.2 145.07 110.2 145.27 111.2 145.47C112.2 145.68 113.2 145.88 114.2 146.09C115.2 146.29 116.2 146.5 117.2 146.71C118.2 146.92 119.2 147.14 120.2 147.35C121.2 147.57 122.2 147.78 123.2 148C124.2 148.22 125.2 148.44 126.2 148.66C127.2 148.88 128.2 149.1 129.2 149.33C130.2 149.55 131.2 149.77 132.2 150C133.2 150.22 134.2 150.44 135.2 150.67C136.2 150.89 137.2 151.12 138.2 151.34C139.2 151.57 140.2 151.79 141.2 152.02C142.2 152.24 143.2 152.46 144.2 152.69C145.2 152.91 146.2 153.13 147.2 153.35C148.2 153.57 149.23 153.8 150.2 154.01C151.17 154.22 152.53 154.5 153 154.6" stroke="#DD59D1"/><path d="M54.2 144.51C54.7 144.5 56.2 144.47 57.2 144.46C58.2 144.44 59.2 144.43 60.2 144.42C61.2 144.41 62.2 144.4 63.2 144.4C64.2 144.39 65.2 144.39 66.2 144.39C67.2 144.39 68.2 144.39 69.2 144.39C70.2 144.39 71.2 144.4 72.2 144.41C73.2 144.41 74.2 144.42 75.2 144.43C76.2 144.45 77.2 144.46 78.2 144.47C79.2 144.49 80.2 144.51 81.2 144.53C82.2 144.55 83.2 144.57 84.2 144.59C85.2 144.61 86.2 144.64 87.2 144.66C88.2 144.69 89.2 144.72 90.2 144.75C91.2 144.78 92.2 144.81 93.2 144.85C94.2 144.88 95.2 144.91 96.2 144.95C97.2 144.99 98.2 145.02 99.2 145.06C100.2 145.1 101.2 145.15 102.2 145.19C103.2 145.23 104.2 145.27 105.2 145.32C106.2 145.36 107.2 145.41 108.2 145.46C109.2 145.51 110.2 145.56 111.2 145.61C112.2 145.66 113.2 145.71 114.2 145.76C115.2 145.82 116.2 145.87 117.2 145.92C118.2 145.98 119.2 146.04 120.2 146.09C121.2 146.15 122.2 146.21 123.2 146.27C124.2 146.33 125.2 146.39 126.2 146.45C127.2 146.51 128.2 146.57 129.2 146.64C130.2 146.7 131.2 146.76 132.2 146.83C133.2 146.89 134.2 146.96 135.2 147.02C136.2 147.09 137.2 147.16 138.2 147.22C139.2 147.29 140.2 147.36 141.2 147.43C142.2 147.5 143.2 147.57 144.2 147.64C145.2 147.7 146.2 147.78 147.2 147.85C148.2 147.92 149.2 147.99 150.2 148.06C151.2 148.13 152.2 148.2 153.2 148.27C154.2 148.35 155.2 148.42 156.2 148.49C157.2 148.57 158.2 148.64 159.2 148.71C160.2 148.79 161.2 148.86 162.2 148.94C163.2 149.02 164.2 149.09 165.2 149.17C166.2 149.25 167.2 149.32 168.2 149.4C169.2 149.48 170.2 149.56 171.2 149.64C172.2 149.72 173.2 149.8 174.2 149.88C175.2 149.96 176.2 150.05 177.2 150.13C178.2 150.21 179.2 150.3 180.2 150.38C181.2 150.47 182.2 150.55 183.2 150.64C184.2 150.73 185.2 150.82 186.2 150.91C187.2 151 188.2 151.09 189.2 151.18C190.2 151.27 191.2 151.37 192.2 151.46C193.2 151.55 194.2 151.65 195.2 151.75C196.2 151.84 197.2 151.94 198.2 152.04C199.2 152.14 200.2 152.24 201.2 152.35C202.2 152.46 203.2 152.57 204.2 152.69C205.2 152.81 206.2 152.94 207.2 153.08C208.2 153.22 209.2 153.37 210.2 153.54C211.2 153.71 212.32 153.92 213.2 154.09C214.08 154.27 215.12 154.52 215.5 154.6" stroke="#DD59D1"/><path d="M54.2 89.11C54.7 89.14 56.2 89.25 57.2 89.32C58.2 89.39 59.2 89.46 60.2 89.53C61.2 89.6 62.2 89.68 63.2 89.76C64.2 89.83 65.2 89.91 66.2 89.99C67.2 90.07 68.2 90.16 69.2 90.24C70.2 90.33 71.2 90.41 72.2 90.51C73.2 90.6 74.2 90.69 75.2 90.79C76.2 90.88 77.2 90.98 78.2 91.08C79.2 91.19 80.2 91.29 81.2 91.4C82.2 91.51 83.2 91.62 84.2 91.74C85.2 91.86 86.2 91.98 87.2 92.1C88.2 92.23 89.2 92.36 90.2 92.49C91.2 92.62 92.2 92.76 93.2 92.9C94.2 93.04 95.2 93.19 96.2 93.34C97.2 93.49 98.2 93.65 99.2 93.81C100.2 93.97 101.2 94.14 102.2 94.31C103.2 94.48 104.2 94.66 105.2 94.84C106.2 95.03 107.2 95.22 108.2 95.41C109.2 95.61 110.2 95.81 111.2 96.01C112.2 96.22 113.2 96.43 114.2 96.65C115.2 96.87 116.2 97.1 117.2 97.33C118.2 97.57 119.2 97.81 120.2 98.05C121.2 98.3 122.2 98.55 123.2 98.82C124.2 99.08 125.2 99.35 126.2 99.62C127.2 99.9 128.2 100.18 129.2 100.47C130.2 100.76 131.2 101.06 132.2 101.37C133.2 101.68 134.2 101.99 135.2 102.32C136.2 102.64 137.2 102.97 138.2 103.32C139.2 103.66 140.2 104.01 141.2 104.36C142.2 104.72 143.2 105.09 144.2 105.47C145.2 105.85 146.2 106.24 147.2 106.64C148.2 107.04 149.2 107.46 150.2 107.88C151.2 108.31 152.2 108.75 153.2 109.21C154.2 109.67 155.2 110.14 156.2 110.63C157.2 111.12 158.2 111.62 159.2 112.14C160.2 112.66 161.2 113.2 162.2 113.76C163.2 114.32 164.2 114.9 165.2 115.5C166.2 116.1 167.2 116.72 168.2 117.36C169.2 118 170.2 118.66 171.2 119.33C172.2 120.01 173.2 120.7 174.2 121.41C175.2 122.11 176.2 122.84 177.2 123.57C178.2 124.3 179.2 125.05 180.2 125.8C181.2 126.56 182.2 127.32 183.2 128.1C184.2 128.87 185.2 129.65 186.2 130.44C187.2 131.23 188.2 132.02 189.2 132.82C190.2 133.62 191.2 134.42 192.2 135.23C193.2 136.04 194.2 136.85 195.2 137.67C196.2 138.49 197.2 139.31 198.2 140.14C199.2 140.97 200.2 141.8 201.2 142.64C202.2 143.48 203.2 144.32 204.2 145.16C205.2 146.01 206.2 146.85 207.2 147.71C208.2 148.56 209.2 149.42 210.2 150.28C211.2 151.13 212.37 152.14 213.2 152.86C214.03 153.58 214.87 154.31 215.2 154.6" stroke="#E98A9A"/><path d="M140 154.6C146.67 154.6 166.33 154.6 180 154.6C193.67 154.6 215 154.6 222 154.6" stroke="#E98A9A"/><path d="M54.2 156.3C63.5 156.27 93.2 156.22 110 156.1C126.8 155.98 140 155.77 155 155.6C170 155.43 189.08 155.27 200 155.1C210.92 154.93 202.88 154.68 220.5 154.6C238.12 154.52 291.5 154.6 305.7 154.6" stroke="#E98A9A"/></g><g stroke="#333" stroke-width="1.05" stroke-dasharray="2.4 2.35"><line x1="220.5" y1="62.5" x2="220.5" y2="297"/><line x1="247.4" y1="62.5" x2="247.4" y2="297"/></g><g stroke="#505050" stroke-width="1.1" fill="none"><rect x="44" y="60.25" width="271.3" height="237.1" fill="none"/><line x1="62.4" y1="297.35" x2="62.4" y2="302.85"/><line x1="62.4" y1="60.25" x2="62.4" y2="57.25"/><line x1="98.87" y1="297.35" x2="98.87" y2="302.85"/><line x1="98.87" y1="60.25" x2="98.87" y2="57.25"/><line x1="135.34" y1="297.35" x2="135.34" y2="302.85"/><line x1="135.34" y1="60.25" x2="135.34" y2="57.25"/><line x1="171.81" y1="297.35" x2="171.81" y2="302.85"/><line x1="171.81" y1="60.25" x2="171.81" y2="57.25"/><line x1="208.28" y1="297.35" x2="208.28" y2="302.85"/><line x1="208.28" y1="60.25" x2="208.28" y2="57.25"/><line x1="244.75" y1="297.35" x2="244.75" y2="302.85"/><line x1="244.75" y1="60.25" x2="244.75" y2="57.25"/><line x1="281.22" y1="297.35" x2="281.22" y2="302.85"/><line x1="281.22" y1="60.25" x2="281.22" y2="57.25"/><line x1="38.2" y1="285.46" x2="44" y2="285.46"/><line x1="38.2" y1="241.84" x2="44" y2="241.84"/><line x1="38.2" y1="198.22" x2="44" y2="198.22"/><line x1="38.2" y1="154.6" x2="44" y2="154.6"/><line x1="38.2" y1="110.98" x2="44" y2="110.98"/><line x1="38.2" y1="67.36" x2="44" y2="67.36"/></g><path d="M422.6 163.1V240M420.1 163.1H425.1M420.1 240H425.1M426 163.19V240.05M423.5 163.19H428.5M423.5 240.05H428.5M429.39 163.36V240.17M426.89 163.36H431.89M426.89 240.17H431.89M432.79 163.6V240.35M430.29 163.6H435.29M430.29 240.35H435.29M436.19 163.88V240.58M433.69 163.88H438.69M433.69 240.58H438.69M439.59 164.19V240.84M437.09 164.19H442.09M437.09 240.84H442.09M442.98 164.53V241.12M440.48 164.53H445.48M440.48 241.12H445.48M446.38 164.94V241.5M443.88 164.94H448.88M443.88 241.5H448.88M449.78 165.45V242.02M447.28 165.45H452.28M447.28 242.02H452.28M453.17 166.05V242.63M450.67 166.05H455.67M450.67 242.63H455.67M456.57 166.73V243.32M454.07 166.73H459.07M454.07 243.32H459.07M459.97 167.47V244.04M457.47 167.47H462.47M457.47 244.04H462.47M463.36 168.26V244.76M460.86 168.26H465.86M460.86 244.76H465.86M466.76 169.17V245.5M464.26 169.17H469.26M464.26 245.5H469.26M470.16 170.23V246.3M467.66 170.23H472.66M467.66 246.3H472.66M473.56 171.41V247.15M471.06 171.41H476.06M471.06 247.15H476.06M476.95 172.68V248.05M474.45 172.68H479.45M474.45 248.05H479.45M480.35 174.02V248.99M477.85 174.02H482.85M477.85 248.99H482.85M483.75 175.4V249.97M481.25 175.4H486.25M481.25 249.97H486.25M487.14 176.86V251.02M484.64 176.86H489.64M484.64 251.02H489.64M490.54 178.43V252.14M488.04 178.43H493.04M488.04 252.14H493.04M493.94 180.1V253.32M491.44 180.1H496.44M491.44 253.32H496.44M497.33 181.85V254.54M494.83 181.85H499.83M494.83 254.54H499.83M500.73 183.68V255.79M498.23 183.68H503.23M498.23 255.79H503.23M504.13 185.57V257.05M501.63 185.57H506.63M501.63 257.05H506.63M507.53 187.53V258.34M505.03 187.53H510.03M505.03 258.34H510.03M510.92 189.58V259.68M508.42 189.58H513.42M508.42 259.68H513.42M514.32 191.73V261.04M511.82 191.73H516.82M511.82 261.04H516.82M517.72 193.99V262.44M515.22 193.99H520.22M515.22 262.44H520.22M521.11 196.37V263.84M518.61 196.37H523.61M518.61 263.84H523.61M524.51 198.88V265.25M522.01 198.88H527.01M522.01 265.25H527.01M527.91 201.64V266.64M525.41 201.64H530.41M525.41 266.64H530.41M531.3 204.65V268.03M528.8 204.65H533.8M528.8 268.03H533.8M534.7 207.8V269.46M532.2 207.8H537.2M532.2 269.46H537.2M538.1 210.97V270.94M535.6 210.97H540.6M535.6 270.94H540.6M541.5 214.07V272.51M539 214.07H544M539 272.51H544M544.89 217.32V274.23M542.39 217.32H547.39M542.39 274.23H547.39M548.29 220.59V275.94M545.79 220.59H550.79M545.79 275.94H550.79M551.69 223.7V277.61M549.19 223.7H554.19M549.19 277.61H554.19M555.08 226.44V279.27M552.58 226.44H557.58M552.58 279.27H557.58M558.48 228.87V280.81M555.98 228.87H560.98M555.98 280.81H560.98M561.88 231.14V282.17M559.38 231.14H564.38M559.38 282.17H564.38M565.27 233.14V283.44M562.77 233.14H567.77M562.77 283.44H567.77M568.67 234.73V284.55M566.17 234.73H571.17M566.17 284.55H571.17M572.07 236.03V285.44M569.57 236.03H574.57M569.57 285.44H574.57M575.47 237.17V286.21M572.97 237.17H577.97M572.97 286.21H577.97M578.86 238.04V286.84M576.36 238.04H581.36M576.36 286.84H581.36M582.26 238.6V287.24M579.76 238.6H584.76M579.76 287.24H584.76M585.66 239.02V287.56M583.16 239.02H588.16M583.16 287.56H588.16M589.05 239.2V287.7M586.55 239.2H591.55M586.55 287.7H591.55M592.45 238.64V287.22M589.95 238.64H594.95M589.95 287.22H594.95M595.85 237.34V286.17M593.35 237.34H598.35M593.35 286.17H598.35M599.24 235.82V284.84M596.74 235.82H601.74M596.74 284.84H601.74M602.64 234.15V282.86M600.14 234.15H605.14M600.14 282.86H605.14M606.04 231.76V280.56M603.54 231.76H608.54M603.54 280.56H608.54M609.43 227.8V277.9M606.93 227.8H611.93M606.93 277.9H611.93M612.83 223.2V274.37M610.33 223.2H615.33M610.33 274.37H615.33M616.23 218.65V269.35M613.73 218.65H618.73M613.73 269.35H618.73M619.63 210.3V261.74M617.13 210.3H622.13M617.13 261.74H622.13M623.02 203.85V256.57M620.52 203.85H625.52M620.52 256.57H625.52M626.42 196.63V251.2M623.92 196.63H628.92M623.92 251.2H628.92M629.82 188.4V243.4M627.32 188.4H632.32M627.32 243.4H632.32M633.21 179V235.53M630.71 179H635.71M630.71 235.53H635.71M636.61 169.63V228.59M634.11 169.63H639.11M634.11 228.59H639.11M640.01 163.33V222.3M637.51 163.33H642.51M637.51 222.3H642.51M643.4 158.49V215.99M640.9 158.49H645.9M640.9 215.99H645.9M646.8 154.54V209.44M644.3 154.54H649.3M644.3 209.44H649.3M650.2 149.64V203.69M647.7 149.64H652.7M647.7 203.69H652.7M653.6 143.41V194.71M651.1 143.41H656.1M651.1 194.71H656.1M656.99 136.22V189.02M654.49 136.22H659.49M654.49 189.02H659.49M660.39 126.81V179M657.89 126.81H662.89M657.89 179H662.89M663.79 114.67V167.37M661.29 114.67H666.29M661.29 167.37H666.29M667.18 100.88V152.75M664.68 100.88H669.68M664.68 152.75H669.68M670.58 81.49V137.39M668.08 81.49H673.08M668.08 137.39H673.08M673.98 68.17V121.29M671.48 68.17H676.48M671.48 121.29H676.48" stroke="#BDBDBD" stroke-width="1" fill="none"/><g fill="#FF0000"><circle cx="422.6" cy="201.5" r="1.75"/><circle cx="426" cy="201.59" r="1.75"/><circle cx="429.39" cy="201.76" r="1.75"/><circle cx="432.79" cy="202" r="1.75"/><circle cx="436.19" cy="202.28" r="1.75"/><circle cx="439.59" cy="202.59" r="1.75"/><circle cx="442.98" cy="202.93" r="1.75"/><circle cx="446.38" cy="203.35" r="1.75"/><circle cx="449.78" cy="203.88" r="1.75"/><circle cx="453.17" cy="204.51" r="1.75"/><circle cx="456.57" cy="205.19" r="1.75"/><circle cx="459.97" cy="205.92" r="1.75"/><circle cx="463.36" cy="206.66" r="1.75"/><circle cx="466.76" cy="207.43" r="1.75"/><circle cx="470.16" cy="208.25" r="1.75"/><circle cx="473.56" cy="209.14" r="1.75"/><circle cx="476.95" cy="210.09" r="1.75"/><circle cx="480.35" cy="211.1" r="1.75"/><circle cx="483.75" cy="212.18" r="1.75"/><circle cx="487.14" cy="213.42" r="1.75"/><circle cx="490.54" cy="214.8" r="1.75"/><circle cx="493.94" cy="216.19" r="1.75"/><circle cx="497.33" cy="217.51" r="1.75"/><circle cx="500.73" cy="218.85" r="1.75"/><circle cx="504.13" cy="220.36" r="1.75"/><circle cx="507.53" cy="222.21" r="1.75"/><circle cx="510.92" cy="224.28" r="1.75"/><circle cx="514.32" cy="226.37" r="1.75"/><circle cx="517.72" cy="228.43" r="1.75"/><circle cx="521.11" cy="230.5" r="1.75"/><circle cx="524.51" cy="232.57" r="1.75"/><circle cx="527.91" cy="234.55" r="1.75"/><circle cx="531.3" cy="236.52" r="1.75"/><circle cx="534.7" cy="238.67" r="1.75"/><circle cx="538.1" cy="241.2" r="1.75"/><circle cx="541.5" cy="243.82" r="1.75"/><circle cx="544.89" cy="246.32" r="1.75"/><circle cx="548.29" cy="248.66" r="1.75"/><circle cx="551.69" cy="250.7" r="1.75"/><circle cx="555.08" cy="252.58" r="1.75"/><circle cx="558.48" cy="254.35" r="1.75"/><circle cx="561.88" cy="256.08" r="1.75"/><circle cx="565.27" cy="258.02" r="1.75"/><circle cx="568.67" cy="259.73" r="1.75"/><circle cx="572.07" cy="260.93" r="1.75"/><circle cx="575.47" cy="261.83" r="1.75"/><circle cx="578.86" cy="262.45" r="1.75"/><circle cx="582.26" cy="262.9" r="1.75"/><circle cx="585.66" cy="263.23" r="1.75"/><circle cx="589.05" cy="263.4" r="1.75"/><circle cx="592.45" cy="262.95" r="1.75"/><circle cx="595.85" cy="262.15" r="1.75"/><circle cx="599.24" cy="260.92" r="1.75"/><circle cx="602.64" cy="258.82" r="1.75"/><circle cx="606.04" cy="255.99" r="1.75"/><circle cx="609.43" cy="252.57" r="1.75"/><circle cx="612.83" cy="248.43" r="1.75"/><circle cx="616.23" cy="243.05" r="1.75"/><circle cx="619.63" cy="237.33" r="1.75"/><circle cx="623.02" cy="230.65" r="1.75"/><circle cx="626.42" cy="223.46" r="1.75"/><circle cx="629.82" cy="216.09" r="1.75"/><circle cx="633.21" cy="208.27" r="1.75"/><circle cx="636.61" cy="198.9" r="1.75"/><circle cx="640.01" cy="192" r="1.75"/><circle cx="643.4" cy="186.49" r="1.75"/><circle cx="646.8" cy="181.71" r="1.75"/><circle cx="650.2" cy="176.63" r="1.75"/><circle cx="653.6" cy="170.21" r="1.75"/><circle cx="656.99" cy="162.72" r="1.75"/><circle cx="660.39" cy="152.91" r="1.75"/><circle cx="663.79" cy="141.38" r="1.75"/><circle cx="667.18" cy="127.67" r="1.75"/><circle cx="670.58" cy="109.69" r="1.75"/><circle cx="673.98" cy="94.79" r="1.75"/></g><g stroke="#7a7a7a" stroke-width="1.05" stroke-dasharray="1 1.45"><line x1="589.1" y1="60" x2="589.1" y2="296"/><line x1="616.4" y1="60" x2="616.4" y2="296"/></g><g stroke="#505050" stroke-width="1.1" fill="none"><rect x="412.65" y="59.5" width="271.4" height="237" fill="none"/><line x1="431" y1="296.5" x2="431" y2="302"/><line x1="467.48" y1="296.5" x2="467.48" y2="302"/><line x1="503.96" y1="296.5" x2="503.96" y2="302"/><line x1="540.44" y1="296.5" x2="540.44" y2="302"/><line x1="576.92" y1="296.5" x2="576.92" y2="302"/><line x1="613.4" y1="296.5" x2="613.4" y2="302"/><line x1="649.88" y1="296.5" x2="649.88" y2="302"/><line x1="407.25" y1="265.2" x2="412.65" y2="265.2"/><line x1="407.25" y1="227.26" x2="412.65" y2="227.26"/><line x1="407.25" y1="189.32" x2="412.65" y2="189.32"/><line x1="407.25" y1="151.38" x2="412.65" y2="151.38"/><line x1="407.25" y1="113.44" x2="412.65" y2="113.44"/><line x1="407.25" y1="75.5" x2="412.65" y2="75.5"/></g></g><defs><filter id="tf" x="0" y="0" width="685" height="343" filterUnits="userSpaceOnUse"><feOffset dx="0" dy="0"/></filter></defs><g filter="url(#tf)" fill="#1c1c1c" stroke="#1c1c1c" stroke-width="0.15" font-family="Liberation Sans"><text transform="translate(62.4 317.8) scale(0.93 1)" font-size="10" text-anchor="middle">−8</text><text transform="translate(98.87 317.8) scale(0.93 1)" font-size="10" text-anchor="middle">−7</text><text transform="translate(135.34 317.8) scale(0.93 1)" font-size="10" text-anchor="middle">−6</text><text transform="translate(171.81 317.8) scale(0.93 1)" font-size="10" text-anchor="middle">−5</text><text transform="translate(208.28 317.8) scale(0.93 1)" font-size="10" text-anchor="middle">−4</text><text transform="translate(244.75 317.8) scale(0.93 1)" font-size="10" text-anchor="middle">−3</text><text transform="translate(281.22 317.8) scale(0.93 1)" font-size="10" text-anchor="middle">−2</text><text transform="translate(62.4 47) scale(0.93 1)" font-size="10" text-anchor="middle">32</text><text transform="translate(98.87 47) scale(0.93 1)" font-size="10" text-anchor="middle">32</text><text transform="translate(135.34 47) scale(0.93 1)" font-size="10" text-anchor="middle">31</text><text transform="translate(171.81 47) scale(0.93 1)" font-size="10" text-anchor="middle">28</text><text transform="translate(208.28 47) scale(0.93 1)" font-size="10" text-anchor="middle">19</text><text transform="translate(244.75 47) scale(0.93 1)" font-size="10" text-anchor="middle">10</text><text transform="translate(281.22 47) scale(0.93 1)" font-size="10" text-anchor="middle">2</text><text transform="translate(30.5 285.96) rotate(-90) scale(0.93 1)" font-size="10" text-anchor="middle">−3</text><text transform="translate(30.5 242.34) rotate(-90) scale(0.93 1)" font-size="10" text-anchor="middle">−2</text><text transform="translate(30.5 198.72) rotate(-90) scale(0.93 1)" font-size="10" text-anchor="middle">−1</text><text transform="translate(30.5 155.1) rotate(-90) scale(0.93 1)" font-size="10" text-anchor="middle">0</text><text transform="translate(30.5 111.48) rotate(-90) scale(0.93 1)" font-size="10" text-anchor="middle">1</text><text transform="translate(30.5 67.86) rotate(-90) scale(0.93 1)" font-size="10" text-anchor="middle">2</text><text x="179.65" y="340.6" font-size="9.45" text-anchor="middle">Log Lambda</text><text transform="translate(7.6 178.4) rotate(-90)" font-size="9.45" text-anchor="middle">Coefficients</text><text transform="translate(431 316.9) scale(0.93 1)" font-size="10" text-anchor="middle">−8</text><text transform="translate(467.48 316.9) scale(0.93 1)" font-size="10" text-anchor="middle">−7</text><text transform="translate(503.96 316.9) scale(0.93 1)" font-size="10" text-anchor="middle">−6</text><text transform="translate(540.44 316.9) scale(0.93 1)" font-size="10" text-anchor="middle">−5</text><text transform="translate(576.92 316.9) scale(0.93 1)" font-size="10" text-anchor="middle">−4</text><text transform="translate(613.4 316.9) scale(0.93 1)" font-size="10" text-anchor="middle">−3</text><text transform="translate(649.88 316.9) scale(0.93 1)" font-size="10" text-anchor="middle">−2</text><text transform="translate(422.7 46) scale(0.93 1)" font-size="10" text-anchor="middle">32</text><text transform="translate(442.7 46) scale(0.93 1)" font-size="10" text-anchor="middle">32</text><text transform="translate(463.1 46) scale(0.93 1)" font-size="10" text-anchor="middle">32</text><text transform="translate(483.2 46) scale(0.93 1)" font-size="10" text-anchor="middle">31</text><text transform="translate(503.6 46) scale(0.93 1)" font-size="10" text-anchor="middle">31</text><text transform="translate(524 46) scale(0.93 1)" font-size="10" text-anchor="middle">29</text><text transform="translate(544.5 46) scale(0.93 1)" font-size="10" text-anchor="middle">27</text><text transform="translate(564.8 46) scale(0.93 1)" font-size="10" text-anchor="middle">21</text><text transform="translate(585.5 46) scale(0.93 1)" font-size="10" text-anchor="middle">16</text><text transform="translate(605.7 46) scale(0.93 1)" font-size="10" text-anchor="middle">11</text><text transform="translate(626.1 46) scale(0.93 1)" font-size="10" text-anchor="middle">11</text><text transform="translate(643.5 46) scale(0.93 1)" font-size="10" text-anchor="middle">3</text><text transform="translate(656.7 46) scale(0.93 1)" font-size="10" text-anchor="middle">2</text><text transform="translate(670.4 46) scale(0.93 1)" font-size="10" text-anchor="middle">2</text><text transform="translate(398.7 265.4) rotate(-90) scale(0.93 1)" font-size="10" text-anchor="middle">0.7</text><text transform="translate(398.7 227.46) rotate(-90) scale(0.93 1)" font-size="10" text-anchor="middle">0.8</text><text transform="translate(398.7 189.52) rotate(-90) scale(0.93 1)" font-size="10" text-anchor="middle">0.9</text><text transform="translate(398.7 151.58) rotate(-90) scale(0.93 1)" font-size="10" text-anchor="middle">1.0</text><text transform="translate(398.7 113.64) rotate(-90) scale(0.93 1)" font-size="10" text-anchor="middle">1.1</text><text transform="translate(398.7 75.7) rotate(-90) scale(0.93 1)" font-size="10" text-anchor="middle">1.2</text><text x="548.1" y="337.5" font-size="9.8" text-anchor="middle">Log(<tspan font-family="Liberation Serif">λ</tspan>)</text><text transform="translate(376.3 177.2) rotate(-90)" font-size="9.45" text-anchor="middle">Binomial Deviance</text></g><text transform="translate(5.2 14.9) scale(0.87 1)" font-family="Liberation Serif" font-weight="bold" font-size="23.5" stroke="#000" stroke-width="0.3">A</text><text transform="translate(354 14.9) scale(0.915 1)" font-family="Liberation Serif" font-weight="bold" font-size="23.5" stroke="#000" stroke-width="0.3">B</text></svg></body></html>
